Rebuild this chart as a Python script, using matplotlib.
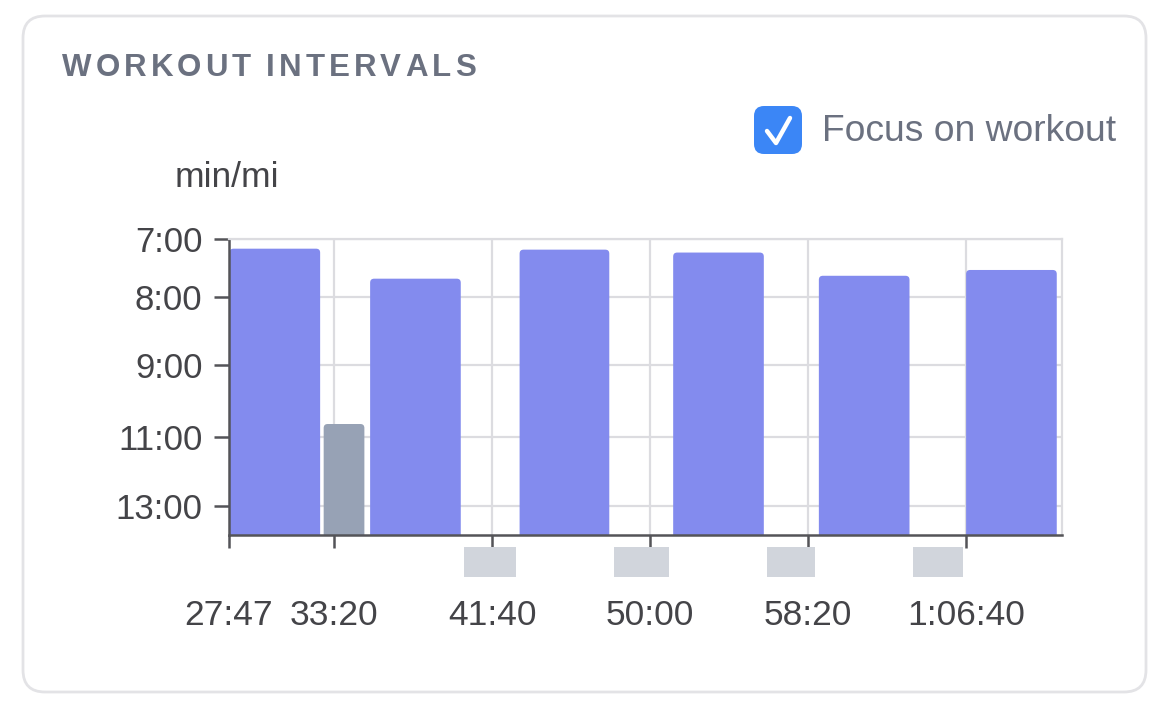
import numpy as np
import matplotlib
matplotlib.use("Agg")
import matplotlib.pyplot as plt
from matplotlib.patches import FancyBboxPatch, Rectangle
from matplotlib import transforms

plt.rcParams['font.family'] = ['Liberation Sans', 'DejaVu Sans']

# work intervals (seconds into the activity) and pace (seconds per mile)
work_start = [1667, 2112, 2585, 3071, 3532, 3998]
work_end = [1957, 2402, 2872, 3361, 3822, 4288]
work_pace = [430, 461, 431, 434, 458, 452]

# recovery jog
recov_start = [1965]
recov_end = [2097]
recov_pace = [638]

# standing rests (no pace)
rest_start = [2412, 2885, 3371, 3831]
rest_end = [2576, 3058, 3522, 3989]

x_ticks = [1667, 2000, 2500, 3000, 3500, 4000]
x_labels = ['27:47', '33:20', '41:40', '50:00', '58:20', '1:06:40']
y_ticks = [420, 480, 540, 660, 780]
y_labels = ['7:00', '8:00', '9:00', '11:00', '13:00']

PURPLE = '#838bee'
SLATE = '#97a2b5'
REST = '#d1d5dc'
GRID = '#dcdce0'
AXIS = '#545458'
TEXT = '#444448'
MUTED = '#6b7180'

# pace axis is not linear, knots pulled off the original axis
# (distance down from the top, as a fraction of the plot height)
pace_knots = np.array([420, 480, 540, 660, 780, 840])
depth_knots = np.array([0.0, 0.196, 0.426, 0.669, 0.902, 1.0185])


def fwd(v):
    return np.interp(v, pace_knots, depth_knots)


def inv(p):
    return np.interp(p, depth_knots, pace_knots)


fig = plt.figure(figsize=(11.76, 7.15), dpi=100)
fig.patch.set_facecolor('white')

# background layer in pixel coords for the card
bg = fig.add_axes([0, 0, 1, 1], zorder=0)
bg.set_xlim(0, 1176)
bg.set_ylim(715, 0)
bg.axis('off')
bg.add_patch(FancyBboxPatch((23, 16), 1123, 676, boxstyle='round,pad=0,rounding_size=22',
                            fc='white', ec='#e3e3e6', lw=2))

ax = fig.add_axes([229 / 1176, 1 - 535 / 715, (1062 - 229) / 1176, (535 - 239) / 715], zorder=1)
ax.set_yscale('function', functions=(fwd, inv))
ax.set_xlim(1667, 4303)
ax.set_ylim(830, 420)
ax.set_autoscale_on(False)

bottom = 830
w_bars = ax.bar(work_start, np.array(work_pace) - bottom,
                width=np.array(work_end) - np.array(work_start),
                bottom=bottom, align='edge', color=PURPLE)
r_bars = ax.bar(recov_start, np.array(recov_pace) - bottom,
                width=np.array(recov_end) - np.array(recov_start),
                bottom=bottom, align='edge', color=SLATE)

# swap plain bars for ones with rounded tops
for rect in list(w_bars) + list(r_bars):
    bb = rect.get_window_extent()
    rect.set_visible(False)
    rp = FancyBboxPatch((bb.x0 + 0.5, bb.y0 - 12), bb.width - 1, bb.height + 12,
                        boxstyle='round,pad=0,rounding_size=4',
                        fc=rect.get_facecolor(), ec='none',
                        transform=transforms.IdentityTransform())
    ax.add_patch(rp)

trans = transforms.blended_transform_factory(ax.transData, ax.transAxes)
for s, e in zip(rest_start, rest_end):
    ax.add_patch(Rectangle((s, -0.142), e - s, 0.101, transform=trans,
                           color=REST, clip_on=False, lw=0))

ax.set_xticks(x_ticks)
ax.set_xticklabels(x_labels)
ax.set_yticks(y_ticks)
ax.set_yticklabels(y_labels)
ax.yaxis.set_minor_locator(matplotlib.ticker.NullLocator())

ax.grid(True, color=GRID, lw=1.6)
ax.set_axisbelow(True)
for side in ['top', 'right']:
    ax.spines[side].set_color(GRID)
    ax.spines[side].set_linewidth(1.6)
for side in ['left', 'bottom']:
    ax.spines[side].set_color(AXIS)
    ax.spines[side].set_linewidth(1.8)

ax.tick_params(axis='y', length=11, width=1.8, color=AXIS, pad=8,
               labelsize=25, labelcolor=TEXT)
ax.tick_params(axis='x', length=9, width=1.8, color=AXIS, pad=37,
               labelsize=25.5, labelcolor=TEXT)

# title with letter spacing
renderer = fig.canvas.get_renderer()
x = 62
for ch in 'WORKOUT INTERVALS':
    if ch == ' ':
        x += 7 + 4.0
        continue
    t = bg.text(x, 76, ch, fontsize=22.5, fontweight='bold', color=MUTED, va='baseline', ha='left')
    x += t.get_window_extent(renderer=renderer).width + 4.0

bg.text(175, 187, 'min/mi', fontsize=25.5, color=TEXT, va='baseline', ha='left')

# checkbox
bg.add_patch(FancyBboxPatch((754, 106), 48, 48, boxstyle='round,pad=0,rounding_size=10',
                            fc='#3b86f6', ec='none'))
bg.plot([767, 776, 790], [131, 143, 118], color='white', lw=3.2,
        solid_capstyle='round', solid_joinstyle='round')
bg.text(822, 141, 'Focus on workout', fontsize=26.8, color=MUTED, va='baseline', ha='left')

fig.savefig('out.png', dpi=100, facecolor='white')
